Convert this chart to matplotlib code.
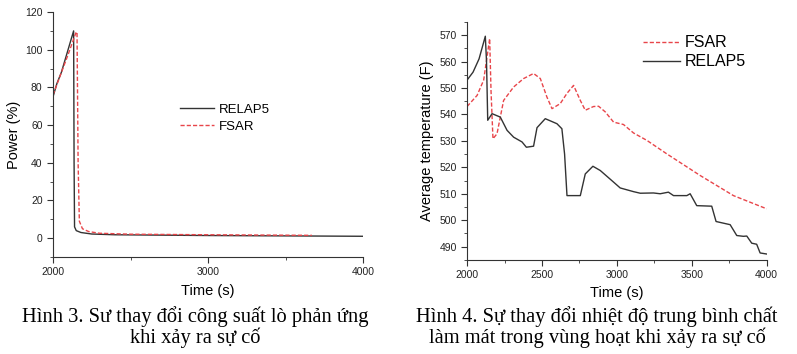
import matplotlib
matplotlib.use("Agg")
import matplotlib.pyplot as plt
from matplotlib.ticker import MultipleLocator

plt.rcParams['font.family'] = ['Liberation Sans', 'DejaVu Sans']

# Figure 3: power
p_relap_t = [2000, 2025, 2054, 2090, 2133, 2136, 2139, 2150, 2180, 2250, 2400, 2700, 3000, 3500, 4000]
p_relap_v = [75, 82, 88, 98, 110, 40, 6, 4, 3, 2.2, 1.8, 1.6, 1.4, 1.2, 1.0]
p_fsar_t = [2000, 2050, 2100, 2150, 2155, 2162, 2170, 2190, 2230, 2300, 2500, 3000, 3670]
p_fsar_v = [76, 87, 98, 109.5, 109, 40, 9, 5, 3.5, 2.6, 2.1, 1.8, 1.5]

# Figure 4: average temperature
t_relap_t = [2000, 2040, 2080, 2122, 2130, 2138, 2167, 2222, 2267, 2311, 2367, 2396, 2444, 2467,
             2522, 2600, 2633, 2651, 2667, 2756, 2789, 2840, 2889, 2978, 3022, 3111, 3156, 3244,
             3289, 3344, 3378, 3467, 3489, 3533, 3633, 3662, 3756, 3800, 3844, 3867, 3900, 3933,
             3956, 4000]
t_relap_v = [553, 556, 561, 569.6, 560, 537.8, 540.3, 539, 534, 531.4, 529.6, 527.6, 528, 535,
             538.4, 536.5, 534.6, 525, 509.3, 509.3, 517.5, 520.4, 518.8, 514.4, 512.2, 510.8, 510.2, 510.3,
             510, 510.6, 509.3, 509.3, 510, 505.5, 505.3, 499.5, 498.3, 494.2, 493.9, 494, 491.3, 490.9,
             487.6, 487.2]
t_fsar_t = [2000, 2067, 2111, 2151, 2160, 2173, 2200, 2244, 2311, 2378, 2444, 2489, 2533, 2567,
            2622, 2667, 2711, 2756, 2789, 2844, 2878, 2922, 2978, 3044, 3111, 3200, 3333, 3556,
            3778, 4000]
t_fsar_v = [543, 547.2, 553, 568.7, 549, 530.8, 532.7, 545.3, 550.4, 553.6, 555.5, 553.6, 546.6, 542.2,
            544.1, 548, 551, 545.3, 541.6, 543, 543.1, 541, 537.1, 536.2, 533, 530.2, 525.1, 516.9,
            509.3, 504.3]

fig = plt.figure(figsize=(7.97, 3.54), dpi=100)

def style(ax):
    for s in ['top', 'right']:
        ax.spines[s].set_visible(False)
    for s in ['left', 'bottom']:
        ax.spines[s].set_color('#333333')
        ax.spines[s].set_linewidth(0.8)
    ax.tick_params(which='both', direction='out', colors='#333333', labelcolor='#222222', labelsize=7.5)
    ax.tick_params(which='major', length=4)
    ax.tick_params(which='minor', length=2.5)

ax1 = fig.add_axes([0.0665, 0.274, 0.389, 0.692])
ax1.plot(p_relap_t, p_relap_v, color='#333333', lw=1.0, label='RELAP5')
ax1.plot(p_fsar_t, p_fsar_v, color='#e8454a', lw=1.0, ls=(0, (3, 1.5)), label='FSAR')
ax1.set_xlim(2000, 4000)
ax1.set_ylim(-10, 120)
ax1.xaxis.set_major_locator(MultipleLocator(1000))
ax1.xaxis.set_minor_locator(MultipleLocator(500))
ax1.yaxis.set_major_locator(MultipleLocator(20))
ax1.yaxis.set_minor_locator(MultipleLocator(10))
style(ax1)
ax1.set_xlabel('Time (s)', fontsize=10.5, labelpad=5)
ax1.set_ylabel('Power (%)', fontsize=10.5, labelpad=3)
ax1.legend(loc='upper left', bbox_to_anchor=(0.37, 0.675), frameon=False, fontsize=9.5,
           handlelength=2.6, handletextpad=0.4, labelspacing=0.35)

ax2 = fig.add_axes([0.586, 0.266, 0.376, 0.672])
ax2.plot(t_fsar_t, t_fsar_v, color='#e8454a', lw=1.0, ls=(0, (3, 1.5)), label='FSAR')
ax2.plot(t_relap_t, t_relap_v, color='#333333', lw=1.0, label='RELAP5')
ax2.set_xlim(2000, 4000)
ax2.set_ylim(485, 575)
ax2.xaxis.set_major_locator(MultipleLocator(500))
ax2.xaxis.set_minor_locator(MultipleLocator(250))
ax2.yaxis.set_major_locator(MultipleLocator(10))
ax2.yaxis.set_minor_locator(MultipleLocator(5))
style(ax2)
ax2.set_xlabel('Time (s)', fontsize=10.5, labelpad=4)
ax2.set_ylabel('Average temperature (F)', fontsize=10.5, labelpad=4)
ax2.legend(loc='upper left', bbox_to_anchor=(0.54, 1.005), frameon=False, fontsize=11.5,
           handlelength=2.3, handletextpad=0.3, labelspacing=0.25)

cap = dict(family=['Liberation Serif', 'DejaVu Serif'], fontsize=14.8, ha='center', va='center',
           linespacing=1.05)
fig.text(0.245, 0.077, 'Hình 3. Sư thay đổi công suất lò phản ứng\nkhi xảy ra sự cố', **cap)
fig.text(0.749, 0.077, 'Hình 4. Sự thay đổi nhiệt độ trung bình chất\nlàm mát trong vùng hoạt khi xảy ra sự cố', **cap)

fig.savefig('out.png', dpi=100)
